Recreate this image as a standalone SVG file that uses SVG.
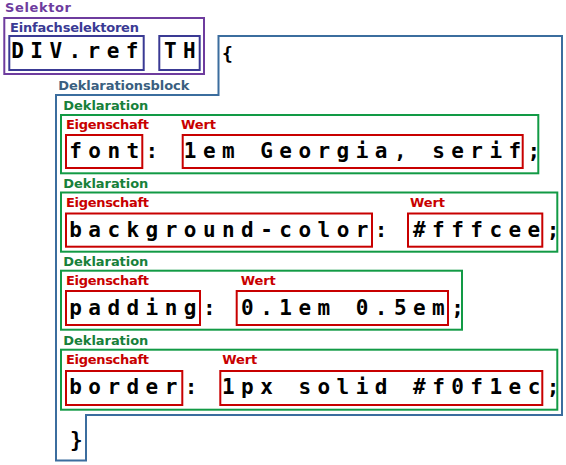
<svg xmlns="http://www.w3.org/2000/svg" width="566" height="465" viewBox="0 0 566 465">
<style>
rect, polygon { fill: none; stroke-width: 2; }
.lbl { font-family: "DejaVu Sans", "Liberation Sans", sans-serif; font-weight: bold; font-size: 13px; }
.code { font-family: "DejaVu Sans Mono", "Liberation Mono", monospace; font-weight: bold; font-size: 21px; letter-spacing: 6.46px; fill: #000; white-space: pre; }
.sel { stroke: #6e3c9e; }
.simple { stroke: #3a3a94; }
.blk { stroke: #3b6d9e; }
.decl { stroke: #129a45; }
.prop { stroke: #c80000; }
.tsel { fill: #6e3c9e; }
.tsimple { fill: #3a3a94; }
.tblk { fill: #3a5f80; }
.tdecl { fill: #17803a; }
.tprop { fill: #c80000; }
</style>
<rect width="566" height="465" fill="#ffffff" stroke="none"/>

<g id="selektor">
  <rect class="sel" x="4.3" y="18" width="199.7" height="56"/>
  <text class="lbl tsel" x="5" y="12" textLength="66" lengthAdjust="spacing">Selektor</text>
  <text class="lbl tsimple" x="10" y="32" textLength="129" lengthAdjust="spacing">Einfachselektoren</text>
  <g id="sel-div">
    <rect class="simple" x="9.3" y="36" width="134.4" height="34"/>
    <text class="code" x="11.2" y="58.3">DIV.ref</text>
  </g>
  <g id="sel-th">
    <rect class="simple" x="159.3" y="36" width="40.4" height="34"/>
    <text class="code" x="164" y="58.3">TH</text>
  </g>
</g>

<g id="deklarationsblock">
  <polygon class="blk" points="56,95 218.5,95 218.5,36 562,36 562,415 86,415 86,460.5 56,460.5"/>
  <text class="lbl tblk" x="58.3" y="90" textLength="131" lengthAdjust="spacing">Deklarationsblock</text>
  <text x="227.5" y="60.4" text-anchor="middle" style="font-family:'DejaVu Sans Mono','Liberation Mono',monospace;font-weight:bold;font-size:18px">{</text>
  <text x="76.3" y="447" text-anchor="middle" style="font-family:'DejaVu Sans Mono','Liberation Mono',monospace;font-weight:bold;font-size:21px">}</text>
</g>

<g id="decl-font">
  <rect class="decl" x="61" y="115" width="477.3" height="58.3"/>
  <text class="lbl tdecl" x="63.3" y="110" textLength="85" lengthAdjust="spacing">Deklaration</text>
  <text class="lbl tprop" x="66" y="129" textLength="83" lengthAdjust="spacing">Eigenschaft</text>
  <text class="lbl tprop" x="181" y="129" textLength="35" lengthAdjust="spacing">Wert</text>
  <rect class="prop" x="66" y="135" width="76.3" height="33"/>
  <rect class="prop" x="182.7" y="135" width="340" height="33"/>
  <text class="code" x="69.2" y="158">font</text>
  <text class="code" x="145.6" y="158">:</text>
  <text class="code" x="183.8" y="158">1em Georgia, serif</text>
  <text class="code" x="527.6" y="158">;</text>
</g>

<g id="decl-background">
  <rect class="decl" x="61" y="192.5" width="496.3" height="59.2"/>
  <text class="lbl tdecl" x="63.3" y="188" textLength="85" lengthAdjust="spacing">Deklaration</text>
  <text class="lbl tprop" x="66" y="206.5" textLength="83" lengthAdjust="spacing">Eigenschaft</text>
  <text class="lbl tprop" x="410" y="206.5" textLength="35" lengthAdjust="spacing">Wert</text>
  <rect class="prop" x="66" y="213.5" width="306" height="33.2"/>
  <rect class="prop" x="408" y="213.5" width="134.3" height="33.2"/>
  <text class="code" x="69.2" y="236.5">background-color</text>
  <text class="code" x="374.8" y="236.5">:</text>
  <text class="code" x="413" y="236.5">#fffcee</text>
  <text class="code" x="546.7" y="236.5">;</text>
</g>

<g id="decl-padding">
  <rect class="decl" x="61" y="270.7" width="401" height="59"/>
  <text class="lbl tdecl" x="63.3" y="266.2" textLength="85" lengthAdjust="spacing">Deklaration</text>
  <text class="lbl tprop" x="66" y="284.7" textLength="83" lengthAdjust="spacing">Eigenschaft</text>
  <text class="lbl tprop" x="240.7" y="284.7" textLength="35" lengthAdjust="spacing">Wert</text>
  <rect class="prop" x="66" y="291" width="134" height="34"/>
  <rect class="prop" x="236.7" y="291" width="211.3" height="34"/>
  <text class="code" x="69.2" y="315">padding</text>
  <text class="code" x="202.9" y="315">:</text>
  <text class="code" x="241.1" y="315">0.1em 0.5em</text>
  <text class="code" x="451.2" y="315">;</text>
</g>

<g id="decl-border">
  <rect class="decl" x="61" y="349.7" width="496.3" height="60"/>
  <text class="lbl tdecl" x="63.3" y="345.2" textLength="85" lengthAdjust="spacing">Deklaration</text>
  <text class="lbl tprop" x="66" y="363.7" textLength="83" lengthAdjust="spacing">Eigenschaft</text>
  <text class="lbl tprop" x="222.3" y="363.7" textLength="35" lengthAdjust="spacing">Wert</text>
  <rect class="prop" x="66" y="371" width="116.3" height="34"/>
  <rect class="prop" x="220.3" y="371" width="322" height="34"/>
  <text class="code" x="69.2" y="394">border</text>
  <text class="code" x="184.7" y="394">:</text>
  <text class="code" x="222" y="394">1px solid #f0f1ec</text>
  <text class="code" x="546.7" y="394">;</text>
</g>
</svg>
